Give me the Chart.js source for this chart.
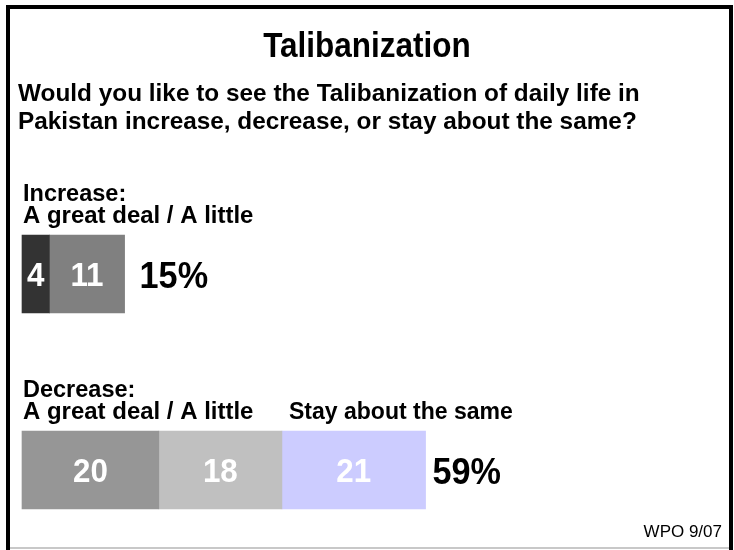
<!DOCTYPE html>
<html>
<head>
<meta charset="utf-8">
<script src="https://cdn.jsdelivr.net/npm/chart.js@4.4.1/dist/chart.umd.min.js"></script>
<style>
  html, body { margin: 0; padding: 0; background: #fff; }
  canvas { display: block; }
</style>
</head>
<body>
<canvas id="talibanChart" width="734" height="550"></canvas>
<script>
// values
const categories = ['Increase', 'Decrease'];
const greatDeal = [4, 20];
const aLittle = [11, 18];
const aboutSame = [null, 21];
const totals = ['15%', '59%'];
const groupHeaders = [['Increase:', 'A great deal / A little'], ['Decrease:', 'A great deal / A little']];
const sameHeader = 'Stay about the same';
const titleText = 'Talibanization';
const questionLines = ['Would you like to see the Talibanization of daily life in',
                       'Pakistan increase, decrease, or stay about the same?'];
const sourceNote = 'WPO 9/07';

const FONT = '"Liberation Sans", Arial, sans-serif';
const totalGap = [15, 7];

// draw text squeezed a bit sideways, like the narrow slide font
function squeezed(ctx, text, x, y, sx) {
    ctx.save();
    ctx.translate(x, y);
    ctx.scale(sx, 1);
    ctx.fillText(text, 0, 0);
    ctx.restore();
}

// text, labels and frame drawn around the bars
const slidePlugin = {
    id: 'slide',
    beforeDraw(chart) {
        const ctx = chart.ctx;
        ctx.save();
        ctx.fillStyle = '#fff';
        ctx.fillRect(0, 0, chart.width, chart.height);
        ctx.restore();
    },
    afterDatasetsDraw(chart) {
        const ctx = chart.ctx;
        ctx.save();

        // frame
        ctx.fillStyle = '#000';
        ctx.fillRect(6, 5, 724, 4);
        ctx.fillRect(6, 5, 4, 545);
        ctx.fillRect(729, 5, 4, 545);
        ctx.fillStyle = '#c8c8c8';
        ctx.fillRect(10, 547, 719, 2);

        // title + question
        ctx.fillStyle = '#000';
        ctx.textBaseline = 'alphabetic';
        ctx.textAlign = 'center';
        ctx.font = 'bold 35px ' + FONT;
        squeezed(ctx, titleText, 367, 57, 0.9);

        ctx.textAlign = 'left';
        ctx.font = 'bold 24px ' + FONT;
        questionLines.forEach((line, i) => squeezed(ctx, line, 18, 101 + i * 28, 1.015));

        // group headers above bars
        const first = chart.getDatasetMeta(0).data;
        ctx.font = 'bold 23.5px ' + FONT;
        first.forEach((bar, i) => {
            const top = bar.y - bar.height / 2;
            squeezed(ctx, groupHeaders[i][0], 23, top - 34, 1.0);
            squeezed(ctx, groupHeaders[i][1], 23, top - 12, 1.02);
        });
        const same = chart.getDatasetMeta(2).data[1];
        squeezed(ctx, sameHeader, same.base + 7, same.y - same.height / 2 - 12, 0.98);

        // values inside segments
        ctx.textAlign = 'center';
        ctx.font = 'bold 33px ' + FONT;
        chart.data.datasets.forEach((ds, di) => {
            chart.getDatasetMeta(di).data.forEach((bar, i) => {
                const v = ds.data[i];
                if (v == null) return;
                ctx.fillStyle = '#fff';
                squeezed(ctx, String(v), (bar.x + bar.base) / 2, bar.y + 12, 0.95);
            });
        });

        // totals
        ctx.textAlign = 'left';
        ctx.fillStyle = '#000';
        ctx.font = 'bold 36px ' + FONT;
        categories.forEach((c, i) => {
            let end = 0;
            chart.data.datasets.forEach((ds, di) => {
                if (ds.data[i] != null) end = Math.max(end, chart.getDatasetMeta(di).data[i].x);
            });
            squeezed(ctx, totals[i], end + totalGap[i], chart.getDatasetMeta(0).data[i].y + 14, 0.95);
        });

        // source
        ctx.textAlign = 'right';
        ctx.font = '17px ' + FONT;
        ctx.fillText(sourceNote, 722, 537);
        ctx.restore();
    }
};

new Chart(document.getElementById('talibanChart'), {
    type: 'bar',
    data: {
        labels: categories,
        datasets: [
            { label: 'A great deal', data: greatDeal, backgroundColor: ['#333333', '#969696'] },
            { label: 'A little', data: aLittle, backgroundColor: ['#808080', '#c0c0c0'] },
            { label: 'Stay about the same', data: aboutSame, backgroundColor: ['#ccccff', '#ccccff'] }
        ].map(ds => Object.assign(ds, { barThickness: 78, borderWidth: 0, clip: false }))
    },
    options: {
        indexAxis: 'y',
        responsive: false,
        animation: false,
        layout: { padding: { top: 274, bottom: 80, left: 22, right: 28 } },
        scales: {
            x: { stacked: true, min: 0, max: 100, display: false },
            y: { stacked: true, offset: false, display: false }
        },
        plugins: {
            legend: { display: false },
            tooltip: { enabled: false }
        }
    },
    plugins: [slidePlugin]
});
</script>
</body>
</html>
